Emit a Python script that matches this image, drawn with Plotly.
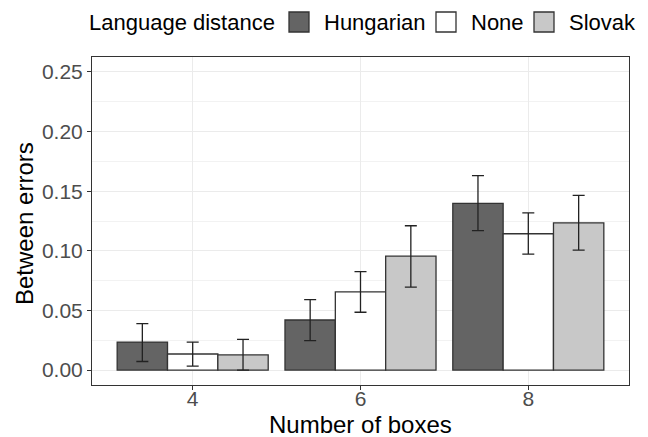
import plotly.graph_objects as go

boxes = ["4", "6", "8"]
series = ["Hungarian", "None", "Slovak"]
colors = {"Hungarian": "#646464", "None": "#ffffff", "Slovak": "#c8c8c8"}
legend_title = "Language distance"
x_title = "Number of boxes"
y_title = "Between errors"

values = {
    "Hungarian": [0.0235, 0.042, 0.1398],
    "None": [0.0135, 0.0656, 0.1143],
    "Slovak": [0.0127, 0.0955, 0.1235],
}
err_upper = {
    "Hungarian": [0.039, 0.059, 0.163],
    "None": [0.0235, 0.0825, 0.1318],
    "Slovak": [0.0257, 0.121, 0.1465],
}
err_lower = {
    "Hungarian": [0.0072, 0.0247, 0.117],
    "None": [0.0033, 0.0485, 0.0972],
    "Slovak": [0.0, 0.0695, 0.1005],
}

# the page body has an 8px margin, so the figure is drawn 8px in from the window
OFF = 8
W, H = 648 - OFF, 437 - OFF
# panel edges in window pixels
PX0, PX1, PY0, PY1 = 92, 629, 57, 385
L, R, T, B = PX0 - OFF, W - (PX1 - OFF), PY0 - OFF, H - (PY1 - OFF)
pw, ph = PX1 - PX0, PY1 - PY0


def px_x(p):
    return (p - PX0) / pw


def px_y(p):
    return (PY1 - p) / ph


fig = go.Figure()
for s in series:
    v = values[s]
    fig.add_trace(go.Bar(
        x=boxes, y=v, name=s, showlegend=False,
        marker=dict(color=colors[s], line=dict(color="#333333", width=1.3)),
        error_y=dict(
            type="data", symmetric=False,
            array=[u - a for u, a in zip(err_upper[s], v)],
            arrayminus=[a - l for a, l in zip(v, err_lower[s])],
            color="#222222", thickness=1.3, width=6,
        ),
    ))

font = "Liberation Sans, Arial, sans-serif"

shapes = []
annotations = [
    dict(text=legend_title, x=px_x(87), y=px_y(22), xref="paper", yref="paper",
         xanchor="left", yanchor="middle", showarrow=False,
         font=dict(size=22, color="black", family=font)),
    dict(text=x_title, x=px_x(360), y=px_y(424), xref="paper", yref="paper",
         xanchor="center", yanchor="middle", showarrow=False,
         font=dict(size=24, color="black", family=font)),
    dict(text=y_title, x=px_x(24), y=px_y(224), xref="paper", yref="paper",
         xanchor="center", yanchor="middle", showarrow=False, textangle=-90,
         font=dict(size=24, color="black", family=font)),
]
sq_left = [289, 436, 534]
txt_left = [322, 469, 567]
for s, sx, tx in zip(series, sq_left, txt_left):
    shapes.append(dict(
        type="rect", xref="paper", yref="paper",
        x0=px_x(sx), x1=px_x(sx + 20), y0=px_y(32), y1=px_y(12),
        fillcolor=colors[s], line=dict(color="#333333", width=1.3),
    ))
    annotations.append(dict(
        text=s, x=px_x(tx), y=px_y(22), xref="paper", yref="paper",
        xanchor="left", yanchor="middle", showarrow=False,
        font=dict(size=22, color="black", family=font),
    ))

fig.update_layout(
    width=W, height=H,
    margin=dict(l=L, r=R, t=T, b=B),
    barmode="group", bargap=0.1, bargroupgap=0,
    plot_bgcolor="white", paper_bgcolor="white",
    font=dict(family=font, color="#000000"),
    showlegend=False,
    shapes=shapes, annotations=annotations,
    xaxis=dict(
        type="category", range=[-0.6, 2.6], automargin=False,
        tickfont=dict(size=21, color="#4d4d4d"),
        showgrid=True, gridcolor="#ebebeb", gridwidth=1.2,
        ticks="outside", ticklen=4, tickcolor="#333333",
        ticklabelstandoff=-9,
        showline=True, linecolor="#333333", mirror=True, linewidth=1,
        zeroline=False,
    ),
    yaxis=dict(
        range=[-0.0125, 0.2625], automargin=False,
        tickvals=[0, 0.05, 0.10, 0.15, 0.20, 0.25],
        ticktext=["0.00", "0.05", "0.10", "0.15", "0.20", "0.25"],
        tickfont=dict(size=21, color="#4d4d4d"),
        showgrid=True, gridcolor="#ebebeb", gridwidth=1.2,
        minor=dict(tickvals=[0.025, 0.075, 0.125, 0.175, 0.225], showgrid=True,
                   gridcolor="#f2f2f2", gridwidth=0.8),
        ticks="outside", ticklen=4, tickcolor="#333333",
        showline=True, linecolor="#333333", mirror=True, linewidth=1,
        zeroline=False,
    ),
)

fig.write_html("out.html")
